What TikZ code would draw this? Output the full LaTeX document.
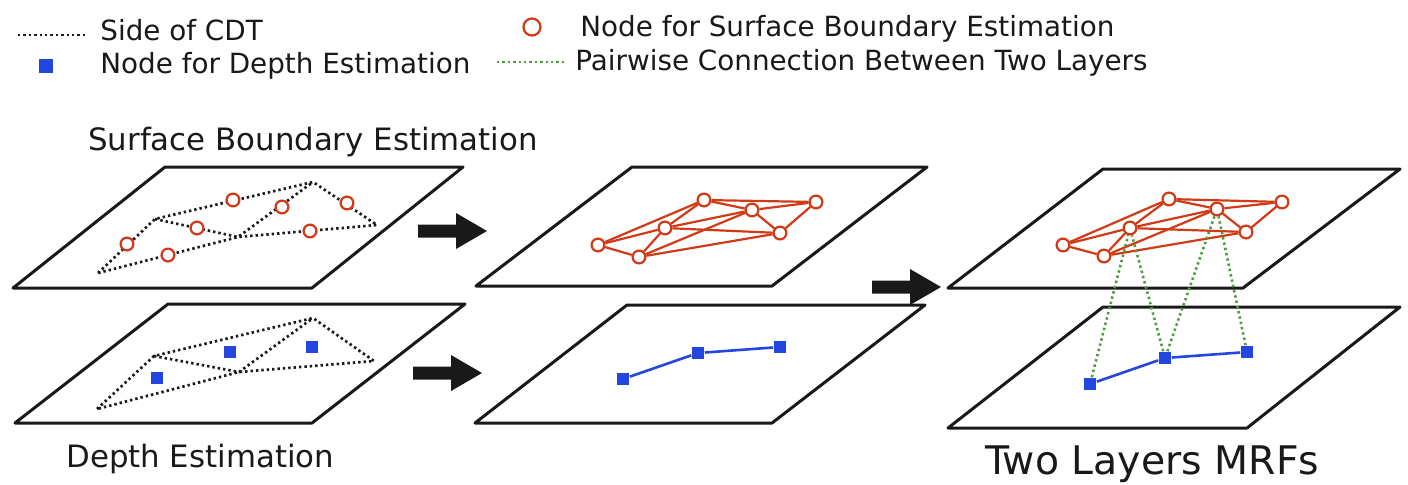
\documentclass[tikz,border=0pt]{standalone}
\usepackage{fontspec}
\setmainfont{DejaVu Sans}
\definecolor{sbred}{RGB}{208,58,22}
\definecolor{dblue}{RGB}{35,70,225}
\definecolor{pgreen}{RGB}{80,155,65}
\definecolor{ink}{RGB}{25,25,25}
\begin{document}
\begin{tikzpicture}[x=0.5pt,y=-0.5pt,
  plane/.style={draw=ink,line width=1.5pt,line join=round},
  cdt/.style={draw=ink,line width=1.35pt,dash pattern=on 1.2pt off 1.5pt,line join=round},
  sbnode/.style={circle,draw=sbred,line width=1.1pt,fill=white,minimum size=6.4pt,inner sep=0pt},
  dnode/.style={rectangle,fill=dblue,minimum size=6.4pt,inner sep=0pt},
  sbedge/.style={draw=sbred,line width=1.1pt},
  dedge/.style={draw=dblue,line width=1.3pt},
  pair/.style={draw=pgreen,line width=1.3pt,dash pattern=on 1.2pt off 1.5pt},
  lbl/.style={anchor=base west,inner sep=0pt,text=ink,font=\fontsize{13.9}{16}\selectfont},
  ttl/.style={anchor=base west,inner sep=0pt,text=ink,font=\fontsize{15.4}{18}\selectfont},
  blockarrow/.pic={\fill[ink] (0,-6.5) -- (38,-6.5) -- (38,-18) -- (69,0) -- (38,18) -- (38,6.5) -- (0,6.5) -- cycle;}
]
\useasboundingbox (0,0) rectangle (1408,484);

% ---------- legend ----------
\coordinate (lgA) at (18,35);
\coordinate (lgB) at (88,35);
\draw[cdt] (lgA) -- (lgB);
\node[lbl] (lgcdt) at (100,40) {Side of CDT};
\node[dnode,minimum size=7pt] (lgsq) at (46,66) {};
\node[lbl] (lgdepth) at (100,73) {Node for Depth Estimation};
\node[sbnode,minimum size=8.5pt] (lgcirc) at (532,27) {};
\node[lbl] (lgsurf) at (580,36) {Node for Surface Boundary Estimation};
\coordinate (lgC) at (497,62);
\coordinate (lgD) at (566,62);
\draw[pair] (lgC) -- (lgD);
\node[lbl] (lgpair) at (575,70) {Pairwise Connection Between Two Layers};

% ---------- titles ----------
\node[ttl] (tsurf) at (88,150) {Surface Boundary Estimation};
\node[ttl] (tdepth) at (66,467) {Depth Estimation};
\node[anchor=base west,inner sep=0pt,text=ink,font=\fontsize{19.7}{23}\selectfont] (tmrf) at (985,474) {Two Layers MRFs};

% ---------- planes ----------
\draw[plane] (13,288) -- (312,288) -- (463,167) -- (165,167) -- cycle;
\draw[plane] (15,423) -- (312,423) -- (465,304) -- (168,304) -- cycle;
\draw[plane] (476,286) -- (772,286) -- (927,167) -- (632,167) -- cycle;
\draw[plane] (475,423) -- (772,423) -- (925,305) -- (627,305) -- cycle;
\draw[plane] (948,288) -- (1243,288) -- (1400,169) -- (1103,169) -- cycle;
\draw[plane] (948,428) -- (1247,428) -- (1400,307) -- (1103,307) -- cycle;

% ---------- arrows ----------
\pic at (418,231) {blockarrow};
\pic at (413,373) {blockarrow};
\pic at (872,287) {blockarrow};

% ---------- left top: CDT with boundary nodes ----------
\coordinate (ta) at (98,273);
\coordinate (tb) at (155,219);
\coordinate (tc) at (313,182);
\coordinate (td) at (377,225);
\coordinate (te) at (238,237);
\draw[cdt] (ta) -- (tb) -- (tc) -- (td) -- (te) -- cycle;
\draw[cdt] (tb) -- (te) -- (tc);
\node[sbnode] (c1) at (127,244) {};
\node[sbnode] (c2) at (168,255) {};
\node[sbnode] (c3) at (197,228) {};
\node[sbnode] (c4) at (233,200) {};
\node[sbnode] (c5) at (282,207) {};
\node[sbnode] (c6) at (310,231) {};
\node[sbnode] (c7) at (347,203) {};

% ---------- left bottom: CDT with depth nodes ----------
\coordinate (ba) at (97,409);
\coordinate (bb) at (154,356);
\coordinate (bc) at (313,318);
\coordinate (bd) at (374,361);
\coordinate (be) at (239,372);
\draw[cdt] (ba) -- (bb) -- (bc) -- (bd) -- (be) -- cycle;
\draw[cdt] (bb) -- (be) -- (bc);
\node[dnode] (q1) at (157,378) {};
\node[dnode] (q2) at (230,352) {};
\node[dnode] (q3) at (312,347) {};

% ---------- middle top: boundary graph ----------
\node[sbnode] (n1) at (598,245) {};
\node[sbnode] (n2) at (639,257) {};
\node[sbnode] (n3) at (665,228) {};
\node[sbnode] (n4) at (704,200) {};
\node[sbnode] (n5) at (752,210) {};
\node[sbnode] (n6) at (780,233) {};
\node[sbnode] (n7) at (816,202) {};
\foreach \u/\v in {n1/n2,n1/n3,n1/n4,n2/n3,n2/n5,n2/n6,n3/n4,n3/n5,n3/n6,n4/n5,n4/n7,n5/n6,n5/n7,n6/n7}
  \draw[sbedge] (\u) -- (\v);

% ---------- middle bottom: depth chain ----------
\node[dnode] (d1) at (623,379) {};
\node[dnode] (d2) at (698,353) {};
\node[dnode] (d3) at (780,347) {};
\draw[dedge] (d1) -- (d2) -- (d3);

% ---------- right top: boundary graph ----------
\node[sbnode] (m1) at (1063,245) {};
\node[sbnode] (m2) at (1104,256) {};
\node[sbnode] (m3) at (1130,228) {};
\node[sbnode] (m4) at (1169,199) {};
\node[sbnode] (m5) at (1217,209) {};
\node[sbnode] (m6) at (1246,232) {};
\node[sbnode] (m7) at (1282,202) {};
\foreach \u/\v in {m1/m2,m1/m3,m1/m4,m2/m3,m2/m5,m2/m6,m3/m4,m3/m5,m3/m6,m4/m5,m4/m7,m5/m6,m5/m7,m6/m7}
  \draw[sbedge] (\u) -- (\v);

% ---------- right bottom: depth chain ----------
\node[dnode] (r1) at (1090,384) {};
\node[dnode] (r2) at (1165,358) {};
\node[dnode] (r3) at (1247,352) {};
\draw[dedge] (r1) -- (r2) -- (r3);

% ---------- pairwise links between the two layers ----------
\draw[pair] (r1) -- (m3);
\draw[pair] (r2) -- (m3);
\draw[pair] (r2) -- (m5);
\draw[pair] (r3) -- (m5);
\end{tikzpicture}
\end{document}
